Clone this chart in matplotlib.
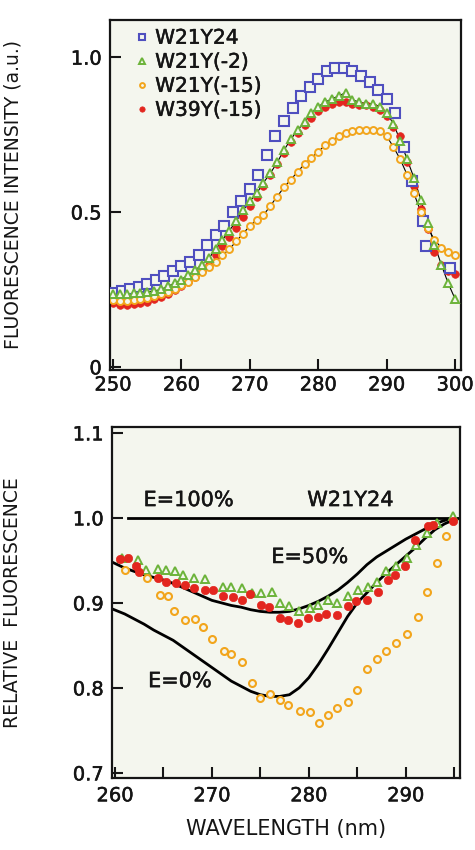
import matplotlib
matplotlib.use("Agg")
import matplotlib.pyplot as plt
import matplotlib.patheffects as pe
import numpy as np

# ---- top panel: emission spectra ----
wl = list(range(250, 301))  # 1 nm grid for the three small-marker series

sq_wl = [250, 251.25, 252.5, 253.75, 255, 256.25, 257.5, 258.75, 260, 261.25,
         262.5, 263.75, 265, 266.25, 267.5, 268.75, 270, 271.25, 272.5, 273.75,
         275, 276.25, 277.5, 278.75, 280, 281.25, 282.5, 283.75, 285, 286.25,
         287.5, 288.75, 290, 291.25, 292.5, 293.75, 295.3, 295.8, 299.2]
w21y24 = [0.24, 0.245, 0.25, 0.258, 0.268, 0.28, 0.293, 0.31, 0.325, 0.34,
          0.36, 0.395, 0.425, 0.455, 0.50, 0.535, 0.575, 0.62, 0.685, 0.745,
          0.795, 0.835, 0.875, 0.905, 0.93, 0.955, 0.965, 0.965, 0.955, 0.94,
          0.92, 0.895, 0.865, 0.82, 0.71, 0.60, 0.47, 0.39, 0.32]

w21y_2 = [0.235, 0.235, 0.235, 0.237, 0.24, 0.243, 0.245, 0.25, 0.26, 0.27,
          0.282, 0.297, 0.312, 0.33, 0.35, 0.38, 0.41, 0.44, 0.47, 0.505,
          0.535, 0.56, 0.595, 0.625, 0.66, 0.70, 0.735, 0.765, 0.79, 0.82,
          0.84, 0.855, 0.865, 0.875, 0.885, 0.862, 0.855, 0.85, 0.85, 0.84,
          0.82, 0.785, 0.73, 0.67, 0.61, 0.54, 0.465, 0.395, 0.33, 0.27, 0.22]

w21y_15 = [0.215, 0.213, 0.213, 0.215, 0.218, 0.222, 0.228, 0.235, 0.243, 0.252,
           0.263, 0.275, 0.29, 0.305, 0.322, 0.34, 0.36, 0.38, 0.405, 0.43,
           0.455, 0.475, 0.49, 0.52, 0.55, 0.58, 0.605, 0.63, 0.655, 0.675,
           0.695, 0.715, 0.73, 0.745, 0.755, 0.762, 0.765, 0.765, 0.765, 0.762,
           0.745, 0.71, 0.67, 0.62, 0.56, 0.50, 0.45, 0.41, 0.385, 0.37, 0.36]

w39y_15 = [0.205, 0.2, 0.2, 0.202, 0.205, 0.21, 0.218, 0.226, 0.236, 0.248,
           0.26, 0.275, 0.29, 0.31, 0.33, 0.36, 0.39, 0.42, 0.45, 0.485,
           0.52, 0.55, 0.585, 0.62, 0.655, 0.69, 0.725, 0.755, 0.78, 0.805,
           0.825, 0.84, 0.85, 0.855, 0.855, 0.85, 0.845, 0.845, 0.84, 0.83,
           0.81, 0.775, 0.745, 0.66, 0.585, 0.51, 0.445, 0.37, 0.33, 0.31, 0.30]

# ---- bottom panel: relative fluorescence (ratio to W21Y24) ----
r_orange_wl = [261, 263.3, 264.6, 265.5, 266.1, 267.2, 268.3, 269.1, 270, 271.2,
               272, 273.1, 274.1, 275, 276, 277, 277.9, 279.1, 280.1, 281,
               282, 282.9, 284, 285, 286, 287, 288, 289, 290.1, 291.3,
               292.2, 293.2, 294.2]
r_orange = [0.939, 0.929, 0.909, 0.908, 0.89, 0.88, 0.881, 0.872, 0.857, 0.843,
            0.84, 0.831, 0.806, 0.788, 0.793, 0.786, 0.78, 0.773, 0.772, 0.759,
            0.768, 0.776, 0.784, 0.798, 0.822, 0.834, 0.843, 0.853, 0.864, 0.884,
            0.913, 0.947, 0.979]

r_red_wl = [260.5, 261.3, 262.2, 262.5, 264.4, 265.3, 266.3, 267.2, 268.2, 269.3,
            270.1, 271.1, 272.2, 273.1, 273.9, 275.1, 275.9, 277, 277.9, 278.9,
            279.9, 280.9, 281.8, 282.9, 284, 284.9, 286, 287.1, 288.2, 288.9,
            289.9, 291, 292.3, 292.8, 294.9]
r_red = [0.952, 0.953, 0.944, 0.936, 0.929, 0.925, 0.923, 0.921, 0.917, 0.915,
         0.915, 0.908, 0.907, 0.904, 0.911, 0.898, 0.895, 0.882, 0.88, 0.876,
         0.882, 0.883, 0.887, 0.886, 0.896, 0.902, 0.904, 0.913, 0.927, 0.933,
         0.944, 0.974, 0.99, 0.992, 0.996]

r_green_wl = [260.7, 262.4, 263.2, 264.4, 265.3, 266.2, 267, 268.2, 269.3, 271.1,
              272, 273.1, 274.1, 275.1, 276.2, 277, 278, 279, 280.1, 280.9,
              282, 282.9, 284, 285.1, 286.1, 287, 288, 289, 290.1, 291.1,
              292.2, 293.2, 294.9]
r_green = [0.953, 0.951, 0.939, 0.94, 0.939, 0.937, 0.933, 0.929, 0.928, 0.919,
           0.919, 0.917, 0.912, 0.912, 0.913, 0.90, 0.896, 0.891, 0.894, 0.898,
           0.903, 0.90, 0.908, 0.915, 0.919, 0.925, 0.937, 0.944, 0.953, 0.968,
           0.982, 0.994, 1.002]

# calculated curves
e100_wl = [261.3, 295.6]
e100 = [1.0, 1.0]
e50_wl = [259.7, 261, 262, 263, 264, 265, 266, 267, 268, 269, 270, 271, 272, 273,
          274, 275, 276, 277, 278, 279, 280, 281, 282, 283, 284, 285, 286, 287,
          288, 289, 290, 291, 292, 293, 294, 295]
e50 = [0.948, 0.941, 0.937, 0.933, 0.93, 0.927, 0.923, 0.918, 0.913, 0.908,
       0.903, 0.9, 0.897, 0.895, 0.892, 0.89, 0.889, 0.889, 0.89, 0.893,
       0.897, 0.902, 0.908, 0.915, 0.924, 0.934, 0.945, 0.954, 0.961, 0.968,
       0.975, 0.981, 0.987, 0.993, 0.997, 1.0]
e0_wl = [259.7, 261, 262, 263, 264, 265, 266, 267, 268, 269, 270, 271, 272, 273,
         274, 275, 276, 277, 278, 279, 280, 281, 282, 283, 284, 285, 286, 287,
         288, 289, 290, 291, 292, 293, 294, 295]
e0 = [0.893, 0.887, 0.881, 0.875, 0.868, 0.862, 0.856, 0.848, 0.84, 0.832,
      0.824, 0.816, 0.808, 0.802, 0.796, 0.792, 0.79, 0.79, 0.792, 0.80,
      0.812, 0.828, 0.846, 0.865, 0.884, 0.90, 0.912, 0.924, 0.935, 0.945,
      0.955, 0.965, 0.976, 0.986, 0.993, 0.998]

BG = "#f4f6ee"
BLUE = "#4f4fbf"
GREEN = "#6cb33a"
ORANGE = "#f2a51c"
RED = "#e3261f"
INK = "#151515"
heavy = [pe.withStroke(linewidth=0.35, foreground=INK)]  # a touch heavier than DejaVu regular

fig = plt.figure(figsize=(4.75, 8.5), dpi=100)
ax1 = fig.add_axes([0.2316, 0.5647, 0.739, 0.4118], facecolor=BG)
ax2 = fig.add_axes([0.2358, 0.0847, 0.7326, 0.413], facecolor=BG)

# top panel
ax1.plot(wl, w21y_2, color="black", lw=0.8, zorder=1)
ax1.plot(wl, w21y_15, color="black", lw=0.8, zorder=1)
ax1.plot(sq_wl, w21y24, ls="none", marker="s", ms=7, mfc=BG, mec=BLUE, mew=1.5,
         label="W21Y24", zorder=3)
ax1.plot(wl, w21y_2, ls="none", marker="^", ms=5.5, mfc=BG, mec=GREEN, mew=1.4,
         label="W21Y(-2)", zorder=4)
ax1.plot(wl, w21y_15, ls="none", marker="o", ms=5, mfc=BG, mec=ORANGE, mew=1.4,
         label="W21Y(-15)", zorder=3)
ax1.plot(wl, w39y_15, ls="none", marker="o", ms=5.5, mfc=RED, mec=RED, mew=0.5,
         label="W39Y(-15)", zorder=2)

ax1.set_xlim(249.56, 300.88)
ax1.set_ylim(-0.01, 1.12)
ax1.set_xticks([250, 260, 270, 280, 290, 300])
ax1.set_yticks([0, 0.5, 1.0])
ax1.set_yticklabels(["0", "0.5", "1.0"])
ax1.set_ylabel("FLUORESCENCE INTENSITY (a.u.)", fontsize=13.5, color=INK)
ax1.yaxis.set_label_coords(-0.25, 0.5)
ax1.tick_params(axis="x", pad=4)

leg = ax1.legend(loc="upper left", bbox_to_anchor=(0.074, 0.975), frameon=False,
                 fontsize=14.5, handlelength=0.6, handletextpad=0.35,
                 labelspacing=0.25, borderpad=0, borderaxespad=0, markerscale=0.7)
for t in leg.get_texts():
    t.set_color(INK)
    t.set_path_effects(heavy)

# bottom panel
ax2.plot(e100_wl, e100, color="black", lw=2, zorder=1)
ax2.plot(e50_wl, e50, color="black", lw=2, zorder=1)
ax2.plot(e0_wl, e0, color="black", lw=2, zorder=1)
ax2.plot(r_orange_wl, r_orange, ls="none", marker="o", ms=5, mfc=BG, mec=ORANGE,
         mew=1.5, zorder=3)
ax2.plot(r_red_wl, r_red, ls="none", marker="o", ms=6, mfc=RED, mec=RED, mew=0.5,
         zorder=3)
ax2.plot(r_green_wl, r_green, ls="none", marker="^", ms=6, mfc=BG, mec=GREEN,
         mew=1.4, zorder=2)

for x, y, s in [(267.6, 1.021, "E=100%"), (284.3, 1.021, "W21Y24"),
                (280.1, 0.954, "E=50%"), (266.7, 0.808, "E=0%")]:
    ax2.text(x, y, s, fontsize=15, ha="center", va="center", color=INK,
             path_effects=heavy)

ax2.set_xlim(259.69, 295.6)
ax2.set_ylim(0.694, 1.107)
ax2.set_xticks([260, 270, 280, 290])
ax2.set_xticks([265, 275, 285, 295], minor=True)
ax2.set_yticks([0.7, 0.8, 0.9, 1.0, 1.1])
ax2.set_yticklabels(["0.7", "0.8", "0.9", "1.0", "1.1"])
ax2.set_ylabel("RELATIVE  FLUORESCENCE", fontsize=13.5, color=INK)
ax2.yaxis.set_label_coords(-0.259, 0.5)
ax2.set_xlabel("WAVELENGTH (nm)", fontsize=15, color=INK, labelpad=10)
ax2.tick_params(axis="x", pad=6)

for ax in (ax1, ax2):
    for s in ax.spines.values():
        s.set_linewidth(1.6)
        s.set_color(INK)
    ax.tick_params(which="both", direction="in", length=8, width=1.5,
                   labelsize=14, colors=INK, top=False, right=False)
    ax.tick_params(axis="y", pad=6)
    for lab in ax.get_xticklabels() + ax.get_yticklabels():
        lab.set_path_effects(heavy)

fig.savefig("out.png", dpi=100, facecolor="white")
